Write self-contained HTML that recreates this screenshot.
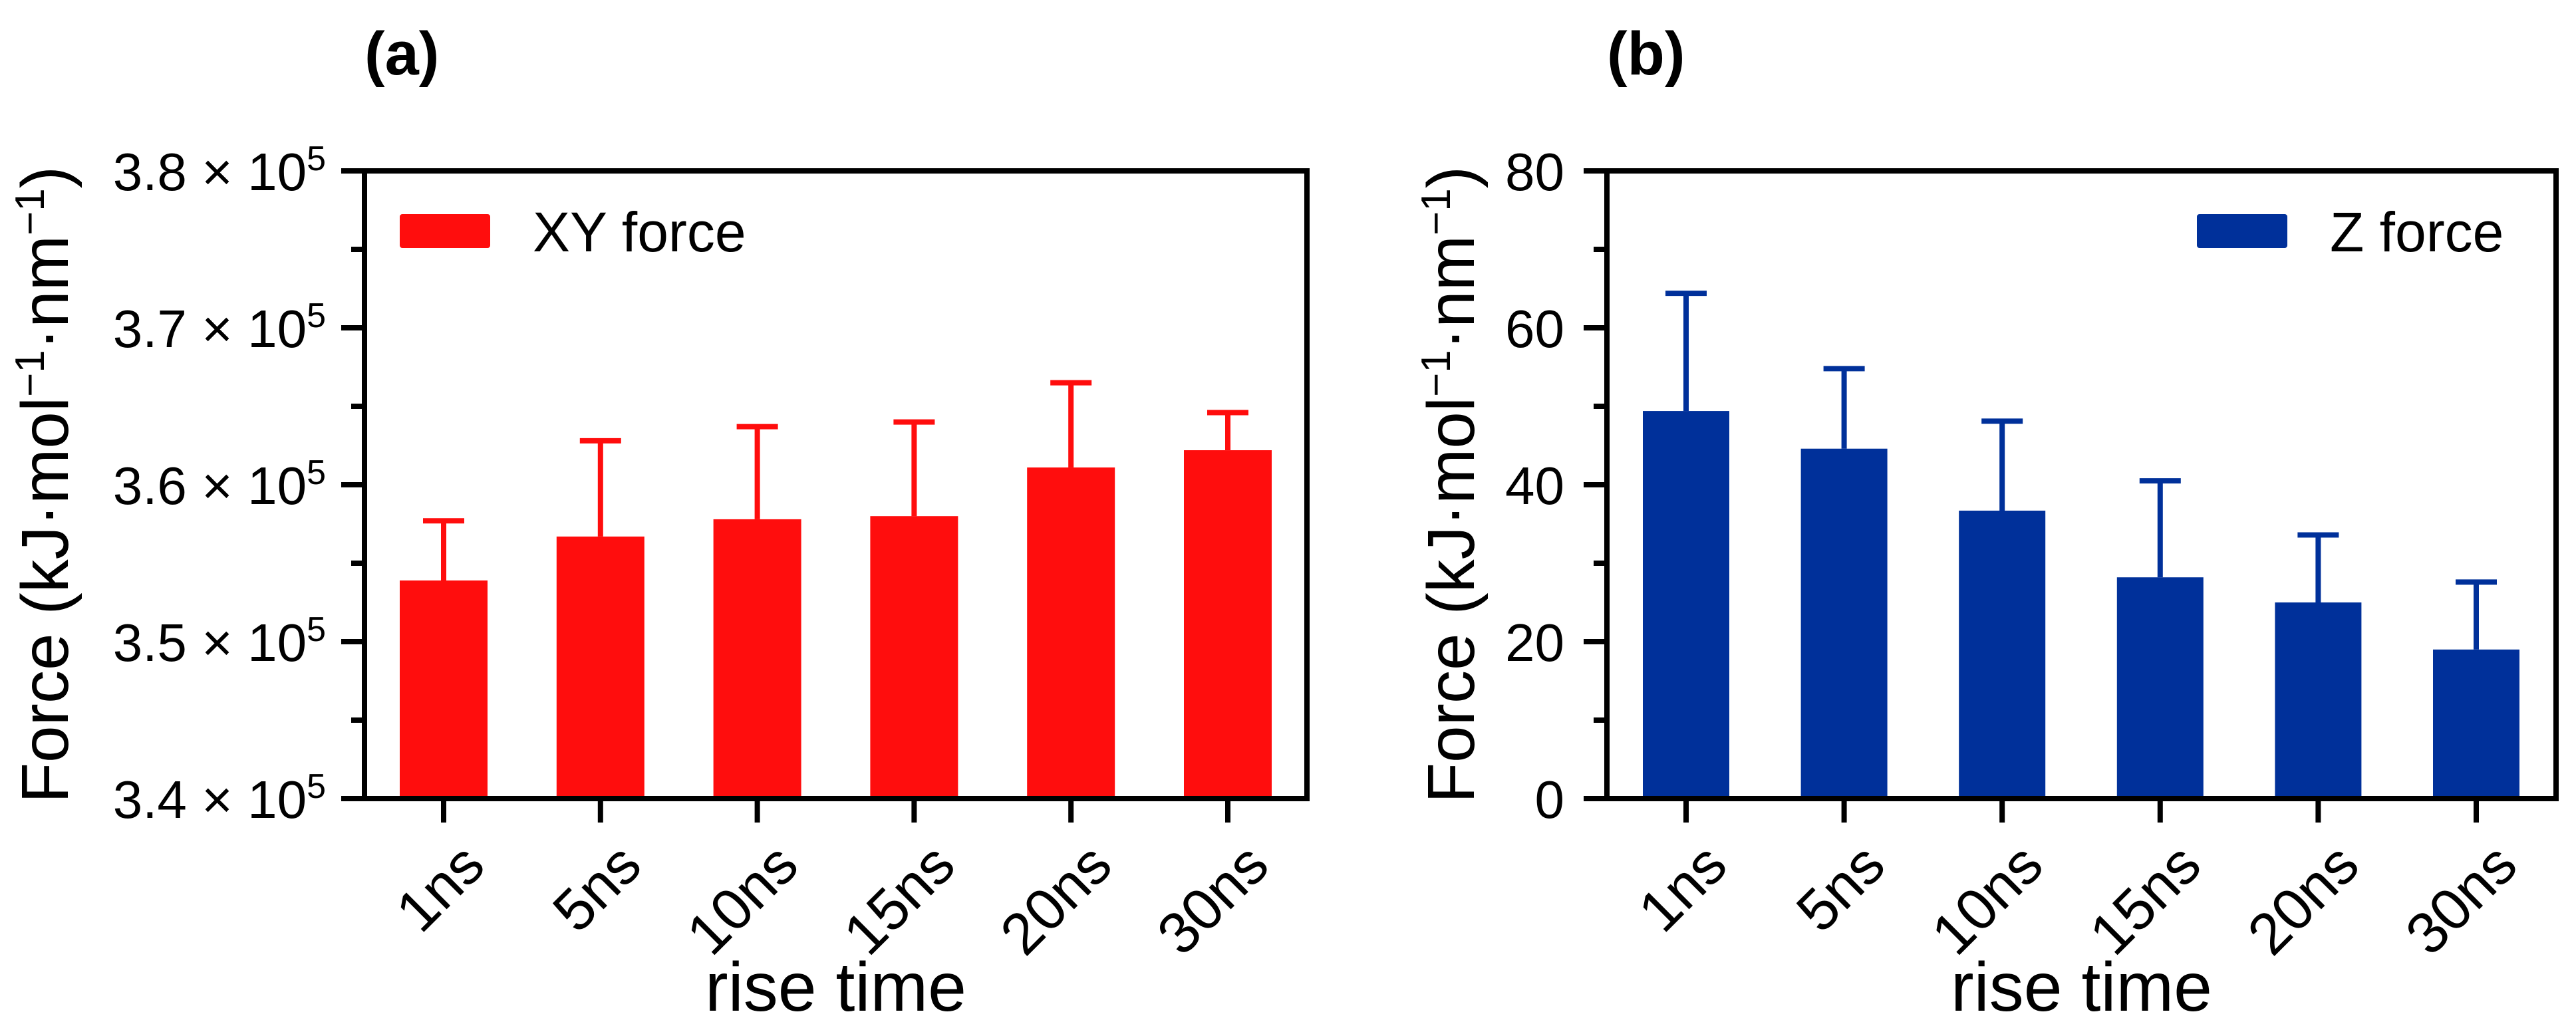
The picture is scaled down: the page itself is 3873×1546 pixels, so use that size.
<!DOCTYPE html>
<html><head><meta charset="utf-8">
<style>
html,body{margin:0;padding:0;background:#fff;}
svg{display:block;font-family:"Liberation Sans",Arial,sans-serif;}
</style></head>
<body>
<svg id="fig" width="3873" height="1546" viewBox="0 0 3873 1546" xmlns="http://www.w3.org/2000/svg">
<rect width="3873" height="1546" fill="#fff"/>
<g id="pa"></g>
<g id="pb"></g>
</svg>
<script>
const categories = ["1ns","5ns","10ns","15ns","20ns","30ns"];
const xyValues = [3.539, 3.567, 3.578, 3.580, 3.611, 3.622];
const xyErrors = [0.038, 0.061, 0.059, 0.060, 0.054, 0.024];
const zValues = [49.4, 44.6, 36.7, 28.2, 25.0, 19.0];
const zErrors = [15.0, 10.2, 11.4, 12.3, 8.6, 8.6];
const aTickValues = [3.4, 3.5, 3.6, 3.7, 3.8];
const aTickLabels = ["3.4","3.5","3.6","3.7","3.8"];
const bTickValues = [0, 20, 40, 60, 80];
const bTickLabels = ["0","20","40","60","80"];

const NS = "http://www.w3.org/2000/svg";
function mk(parent, tag, attrs, text){
  const e = document.createElementNS(NS, tag);
  for (const k in attrs) e.setAttribute(k, attrs[k]);
  if (text !== undefined) e.textContent = text;
  parent.appendChild(e);
  return e;
}

function drawPanel(g, cfg){
  const L = cfg.left, R = cfg.right, T = 257, B = 1201;
  const y = v => B - (v - cfg.min) / (cfg.max - cfg.min) * (B - T);
  const x = i => cfg.x0 + i * cfg.step;
  cfg.values.forEach((v, i) => {
    const r = mk(g, "rect", {x: x(i) - cfg.bw/2, y: y(v), width: cfg.bw, height: B - y(v), fill: cfg.color});
    
    
    const top = y(v + cfg.errors[i]);
    const eb = mk(g, "path", {d: `M${x(i)},${y(v)} V${top} M${x(i)-31},${top} H${x(i)+31}`, stroke: cfg.color, "stroke-width": 8, fill: "none"});
    
    
  });
  const fr = mk(g, "rect", {x: L, y: T, width: R - L, height: B - T, fill: "none", stroke: "#000", "stroke-width": 8});
  
  
  cfg.ticks.forEach((v, i) => {
    mk(g, "line", {x1: L - 35, x2: L, y1: y(v), y2: y(v), stroke: "#000", "stroke-width": 8});
    if (i < cfg.ticks.length - 1) {
      const m = (v + cfg.ticks[i+1]) / 2;
      mk(g, "line", {x1: L - 20, x2: L, y1: y(m), y2: y(m), stroke: "#000", "stroke-width": 8});
    }
    const t = mk(g, "text", {x: cfg.labelX, y: y(v) + 29, "font-size": 80, "text-anchor": "end", fill: "#000"});
    
    
    if (cfg.sci) {
      t.textContent = cfg.tickLabels[i] + " \u00d7 10";
      mk(t, "tspan", {dy: -30, "font-size": 52}, "5");
    } else t.textContent = cfg.tickLabels[i];
  });
  categories.forEach((c, i) => {
    mk(g, "line", {x1: x(i), x2: x(i), y1: B, y2: B + 36, stroke: "#000", "stroke-width": 8});
    const ax = x(i) + 66, ay = 1306;
    const t = mk(g, "text", {x: ax, y: ay, "font-size": 88, "text-anchor": "end", transform: `rotate(-45 ${ax} ${ay})`}, c);
    
    
  });
  const xt = mk(g, "text", {x: (L + R) / 2, y: 1520, "font-size": 104, "text-anchor": "middle"}, "rise time");
  
  
  const yt = mk(g, "text", {x: 0, y: 0, "font-size": 100, "text-anchor": "middle", transform: `translate(${cfg.titleX},${(T+B)/2}) rotate(-90)`});
  
  
  yt.textContent = "Force (kJ\u00b7mol";
  mk(yt, "tspan", {dy: -36, "font-size": 62}, "\u22121");
  mk(yt, "tspan", {dy: 36}, "\u00b7nm");
  mk(yt, "tspan", {dy: -36, "font-size": 62}, "\u22121");
  mk(yt, "tspan", {dy: 36}, ")");
  const pl = mk(g, "text", {x: cfg.panelX, y: 112, "font-size": 92, "font-weight": "bold"}, cfg.panel);
  
  
  const lb = mk(g, "rect", {x: cfg.legX, y: 322, width: 136, height: 51, rx: 4, fill: cfg.color});
  
  
  const lt = mk(g, "text", {x: cfg.legX + 200, y: 378, "font-size": 84}, cfg.legend);
  
  
}

drawPanel(document.getElementById("pa"), {
  left: 548, right: 1965, min: 3.4, max: 3.8, x0: 667, step: 235.8, bw: 132,
  values: xyValues, errors: xyErrors, color: "#ff0d0d", ticks: aTickValues, tickLabels: aTickLabels,
  sci: true, labelX: 490, titleX: 102, panel: "(a)", panelX: 548, legX: 601, legend: "XY force"
});
drawPanel(document.getElementById("pb"), {
  left: 2416, right: 3843, min: 0, max: 80, x0: 2535, step: 237.6, bw: 130,
  values: zValues, errors: zErrors, color: "#00309a", ticks: bTickValues, tickLabels: bTickLabels,
  sci: false, labelX: 2352, titleX: 2216, panel: "(b)", panelX: 2416, legX: 3303, legend: "Z force"
});
</script>
</body></html>
